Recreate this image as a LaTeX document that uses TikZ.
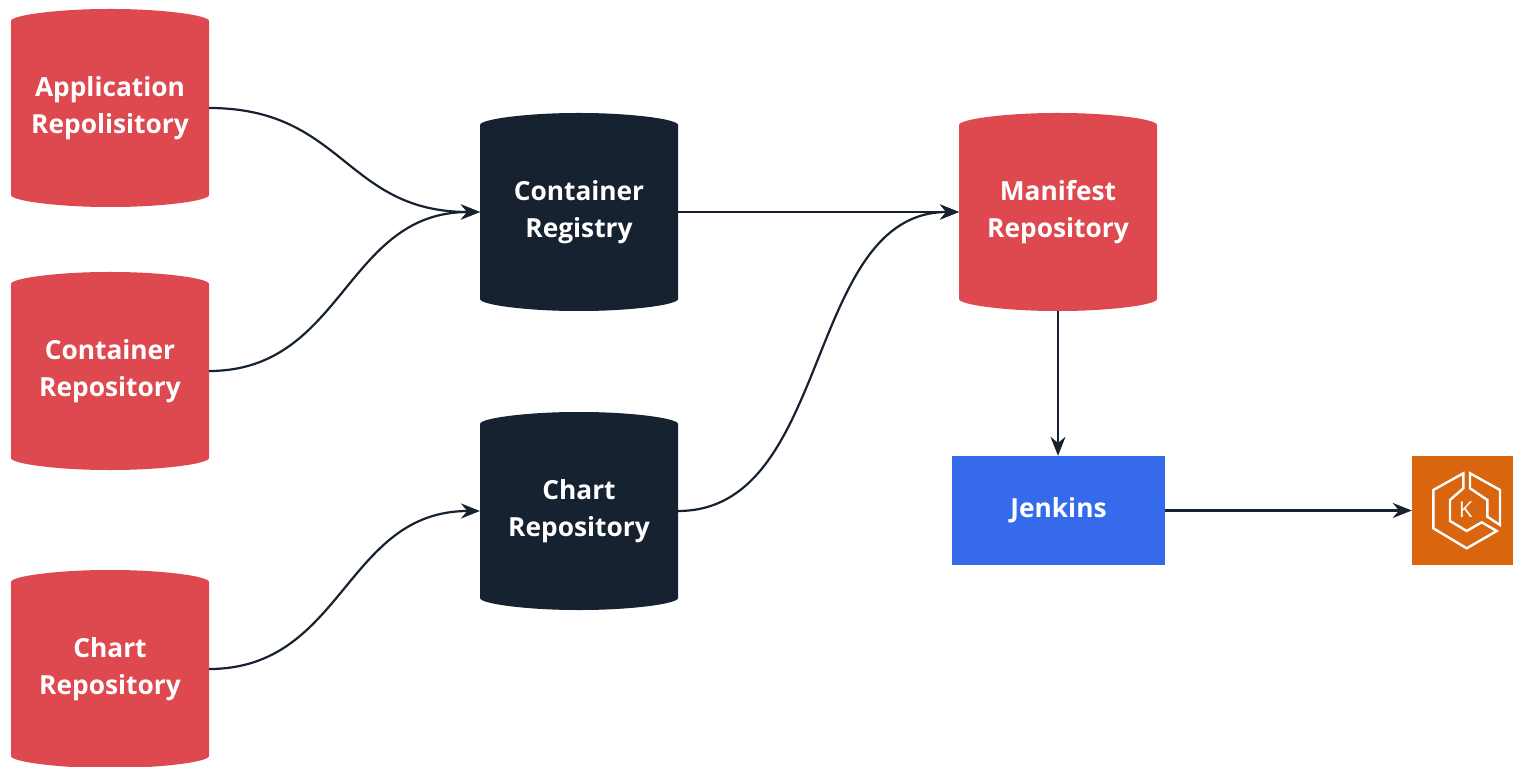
\documentclass[tikz,border=0pt]{standalone}
\usepackage{fontspec}
\setmainfont{Open Sans}
\usetikzlibrary{arrows.meta}
\definecolor{repored}{HTML}{DE4950}
\definecolor{navy}{HTML}{172230}
\definecolor{jblue}{HTML}{356AEB}
\definecolor{korange}{HTML}{D9660F}
\tikzset{
  x=1pt,y=-1pt,
  label text/.style={text=white,font=\fontsize{26.3}{37}\selectfont\bfseries,align=center,inner sep=0pt},
  anchorbox/.style={rectangle,minimum width=198pt,minimum height=198pt,inner sep=0pt,outer sep=0pt,label text},
  link/.style={draw=navy,line width=2.2pt,-{Stealth[length=19pt,width=15pt]}},
  icon/.style={draw=white,line width=2.4pt,line join=miter}
}
\newcommand{\repocyl}[5]{%
  \fill[#4,rounded corners=3pt] (#2-99,#3-84) .. controls (#2-99,#3-93) and (#2-50,#3-99) .. (#2,#3-99)
    .. controls (#2+50,#3-99) and (#2+99,#3-93) .. (#2+99,#3-84)
    -- (#2+99,#3+84) .. controls (#2+99,#3+93) and (#2+50,#3+99) .. (#2,#3+99)
    .. controls (#2-50,#3+99) and (#2-99,#3+93) .. (#2-99,#3+84) -- cycle;
  \node[anchorbox] (#1) at (#2,#3) {#5};%
}
\begin{document}
\begin{tikzpicture}
\useasboundingbox (0,0) rectangle (1513,767);
\repocyl{app}{110}{108}{repored}{Application\\Repolisitory}
\repocyl{conrepo}{110}{371}{repored}{Container\\Repository}
\repocyl{chartsrc}{110}{669}{repored}{Chart\\Repository}
\repocyl{registry}{579}{212}{navy}{Container\\Registry}
\repocyl{chartrepo}{579}{511}{navy}{Chart\\Repository}
\repocyl{manifest}{1058}{212}{repored}{Manifest\\Repository}
\node[label text,fill=jblue,minimum width=213pt,minimum height=109pt] (jenkins) at (1058.5,510.5) {Jenkins};
\node[fill=korange,minimum width=101pt,minimum height=109pt,inner sep=0pt] (eks) at (1462.5,510.5) {};
% icon
\draw[icon] (1463.3,473.3) -- (1433.3,490) -- (1433.3,528.3) -- (1466.7,548.3) -- (1496.7,531) -- (1481.7,522.3) -- (1466.7,531) -- (1450,521) -- (1450,500) -- (1463.3,488.3) -- cycle;
\draw[icon] (1470,473.3) -- (1500,490) -- (1500,525) -- (1487.3,516.7) -- (1487.3,500) -- (1470,488.3) -- cycle;
\node[text=white,font=\fontsize{22}{22}\selectfont,inner sep=0pt] (k) at (1465.7,510) {K};
\path[link] (app.east) .. controls +(135,0) and +(-135,0) .. (registry.west);
\path[link] (conrepo.east) .. controls +(135,0) and +(-135,0) .. (registry.west);
\path[link] (chartsrc.east) .. controls +(135,0) and +(-135,0) .. (chartrepo.west);
\path[link] (registry.east) -- (manifest.west);
\path[link] (chartrepo.east) .. controls +(155,0) and +(-155,0) .. (manifest.west);
\path[link] (manifest.south) -- (manifest.south |- jenkins.north);
\path[link] (jenkins.east) -- (eks.west);
\end{tikzpicture}
\end{document}
